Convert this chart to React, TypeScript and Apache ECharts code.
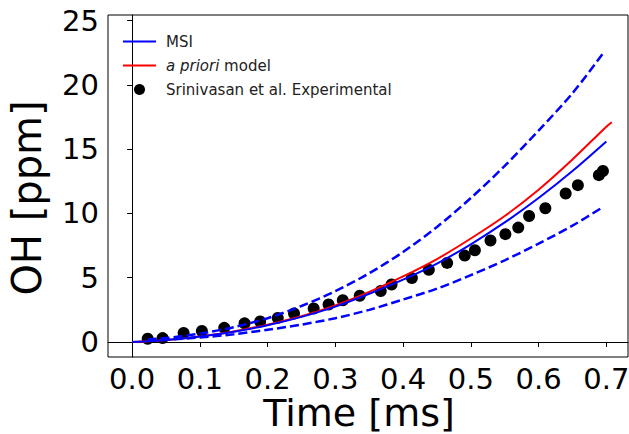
import React, { useEffect, useRef } from "react";
import * as echarts from "echarts";

// Experimental data (Srinivasan et al.)
const expTime = [0.023, 0.045, 0.076, 0.103, 0.136, 0.166, 0.189, 0.215, 0.239, 0.268, 0.29, 0.311, 0.336, 0.367, 0.383, 0.413, 0.438, 0.465, 0.491, 0.506, 0.529, 0.551, 0.57, 0.586, 0.61, 0.64, 0.658, 0.689, 0.695];
const expOH = [0.25, 0.3, 0.7, 0.85, 1.1, 1.45, 1.6, 1.87, 2.22, 2.6, 2.92, 3.25, 3.6, 3.97, 4.47, 4.97, 5.62, 6.15, 6.72, 7.14, 7.9, 8.39, 8.9, 9.8, 10.4, 11.55, 12.2, 12.98, 13.3];

// MSI model
const msiTime = [0, 0.05, 0.1, 0.15, 0.2, 0.25, 0.3, 0.35, 0.4, 0.45, 0.5, 0.55, 0.6, 0.65, 0.7];
const msiOH = [0, 0.15, 0.42, 0.8, 1.3, 1.95, 2.75, 3.75, 4.85, 6.1, 7.6, 9.3, 11.2, 13.3, 15.6];

// a priori model
const aprTime = [0, 0.05, 0.1, 0.15, 0.2, 0.25, 0.3, 0.35, 0.4, 0.45, 0.5, 0.55, 0.6, 0.65, 0.7, 0.708];
const aprOH = [0, 0.15, 0.43, 0.82, 1.35, 2.0, 2.85, 3.9, 5.1, 6.45, 8.05, 9.8, 11.85, 14.2, 16.75, 17.1];

// MSI uncertainty bounds
const bandTime = [0.023, 0.05, 0.1, 0.15, 0.2, 0.25, 0.3, 0.35, 0.4, 0.45, 0.5, 0.55, 0.6, 0.65, 0.695];
const upperOH = [0.2, 0.3, 0.65, 1.15, 1.85, 2.8, 3.95, 5.35, 7.0, 8.95, 11.2, 13.7, 16.45, 19.35, 22.45];
const lowerOH = [0.1, 0.18, 0.35, 0.6, 0.95, 1.35, 1.85, 2.5, 3.3, 4.15, 5.2, 6.35, 7.65, 9.05, 10.5];

const xTicks = [0, 0.1, 0.2, 0.3, 0.4, 0.5, 0.6, 0.7];
const yTicks = [0, 5, 10, 15, 20, 25];
const xTitle = "Time [ms]";
const yTitle = "OH [ppm]";

const zip = (xs: number[], ys: number[]) => xs.map((x, i) => [x, ys[i]]);

export default function App() {
  const ref = useRef<HTMLDivElement>(null);
  useEffect(() => {
    if (!ref.current) return;
    const chart = echarts.init(ref.current, null, { renderer: "svg" });
    const font = "DejaVu Sans";
    const lineBase = {
      type: "line",
      showSymbol: false,
      symbol: "none",
      smooth: 0.3,
    };
    chart.setOption({
      animation: false,
      backgroundColor: "#ffffff",
      textStyle: { fontFamily: font },
      grid: {
        left: 108,
        right: 1,
        top: 15,
        bottom: 77,
        show: true,
        borderColor: "#000",
        borderWidth: 1,
        containLabel: false,
        outerBoundsMode: "none",
      },
      graphic: [
        {
          type: "text",
          x: 359,
          y: 432,
          style: {
            text: xTitle,
            fontSize: 38,
            fontFamily: font,
            fill: "#000",
            align: "center",
            verticalAlign: "bottom",
          },
        },
      ],
      legend: {
        left: 117,
        top: 29,
        orient: "vertical",
        itemWidth: 33,
        itemHeight: 11,
        itemGap: 9,
        textStyle: {
          fontFamily: font,
          fontSize: 15,
          color: "#222",
          padding: [0, 0, 0, 5],
          rich: {
            it: { fontStyle: "italic", fontSize: 15, fontFamily: font, color: "#222" },
            n: { fontSize: 15, fontFamily: font, color: "#222" },
          },
        },
        formatter: (name: string) =>
          name === "a priori model" ? "{it|a priori} {n|model}" : name,
        data: [
          { name: "MSI", itemStyle: { opacity: 0 } },
          { name: "a priori model", itemStyle: { opacity: 0 } },
          { name: "Srinivasan et al. Experimental", icon: "circle" },
        ],
      },
      xAxis: {
        type: "value",
        min: -0.0356,
        max: 0.732,
        axisLine: { show: true, lineStyle: { color: "#000", width: 1 } },
        axisTick: { show: true, inside: false, length: 5, customValues: xTicks, lineStyle: { color: "#000" } },
        axisLabel: {
          customValues: xTicks,
          formatter: (v: number) => v.toFixed(1),
          fontSize: 29,
          color: "#000",
          margin: 7,
          fontFamily: font,
        },
        splitLine: { show: false },
      },
      yAxis: {
        type: "value",
        min: -1.17,
        max: 25.44,
        name: yTitle,
        nameLocation: "middle",
        nameRotate: 90,
        nameGap: 61,
        nameTextStyle: { fontSize: 40, color: "#000", fontFamily: font, padding: [0, 24, 0, 0] },
        axisLine: { show: true, lineStyle: { color: "#000", width: 1 } },
        axisTick: { show: true, inside: false, length: 5, customValues: yTicks, lineStyle: { color: "#000" } },
        axisLabel: {
          customValues: yTicks,
          fontSize: 29,
          color: "#000",
          margin: 9,
          fontFamily: font,
        },
        splitLine: { show: false },
      },
      series: [
        {
          name: "Srinivasan et al. Experimental",
          type: "scatter",
          data: zip(expTime, expOH),
          symbol: "circle",
          symbolSize: 12,
          itemStyle: { color: "#000", opacity: 1 },
          z: 1,
        },
        {
          ...lineBase,
          name: "MSI",
          data: zip(msiTime, msiOH),
          lineStyle: { color: "#0000ff", width: 2 },
          itemStyle: { color: "#0000ff" },
          z: 3,
        },
        {
          ...lineBase,
          name: "a priori model",
          data: zip(aprTime, aprOH),
          lineStyle: { color: "#ff0000", width: 2 },
          itemStyle: { color: "#ff0000" },
          z: 2,
        },
        {
          ...lineBase,
          name: "upper",
          data: zip(bandTime, upperOH),
          lineStyle: { color: "#0000ff", width: 2.5, type: [9, 4] },
          itemStyle: { color: "#0000ff" },
          z: 4,
        },
        {
          ...lineBase,
          name: "lower",
          data: zip(bandTime, lowerOH),
          lineStyle: { color: "#0000ff", width: 2.5, type: [9, 4] },
          itemStyle: { color: "#0000ff" },
          z: 4,
        },
      ],
    });
    return () => chart.dispose();
  }, []);
  return (
    <div
      ref={ref}
      style={{ position: "fixed", left: 0, top: 0, width: 629, height: 434 }}
    />
  );
}
